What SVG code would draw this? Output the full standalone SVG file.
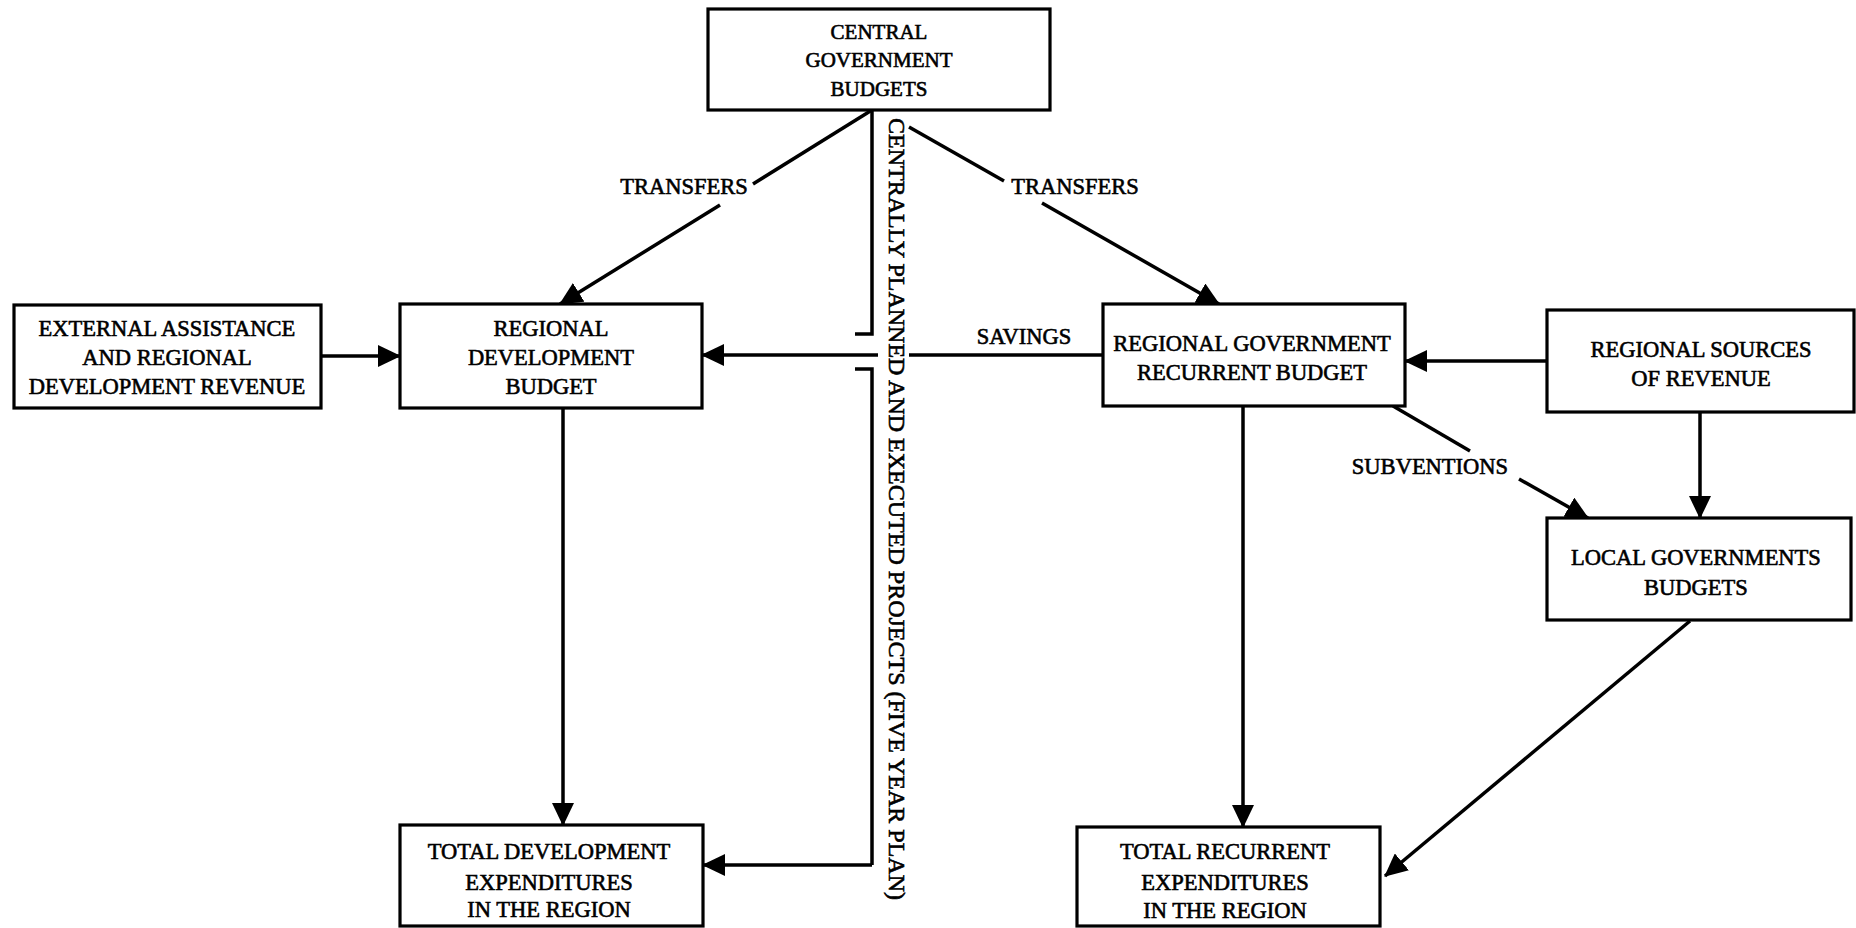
<svg xmlns="http://www.w3.org/2000/svg" width="1856" height="928" viewBox="0 0 1856 928">
<style>
.box{fill:#fff;stroke:#000;stroke-width:3.2}
.t{font-family:"Liberation Serif","Times New Roman",serif;font-size:22.5px;fill:#000;stroke:#000;stroke-width:0.6;text-anchor:middle;dominant-baseline:central}
.s{font-size:21px}
.c{fill:none;stroke:#000;stroke-width:3.5}
.a{fill:none;stroke:#000;stroke-width:3.5;marker-end:url(#ah)}
</style>
<defs>
<marker id="ah" markerUnits="userSpaceOnUse" markerWidth="24" markerHeight="22" refX="22" refY="11" orient="auto">
<path d="M0,0 L23,11 L0,22 Z" fill="#000"/>
</marker>
</defs>
<rect width="1856" height="928" fill="#fff"/>
<g id="connectors">
<line class="c" x1="872" y1="110" x2="753" y2="184"/>
<line class="a" x1="720" y1="205" x2="560" y2="304"/>
<line class="c" x1="909" y1="127" x2="1004" y2="181"/>
<line class="a" x1="1042" y1="203" x2="1219" y2="304"/>
<line class="a" x1="321" y1="356" x2="400" y2="356"/>
<line class="c" x1="1103" y1="355" x2="909" y2="355"/>
<line class="a" x1="878" y1="355" x2="702" y2="355"/>
<polyline class="c" points="872,110 872,334 855,334"/>
<polyline class="c" points="855,369 872,369 872,865"/>
<line class="a" x1="872" y1="865" x2="703" y2="865"/>
<line class="a" x1="563" y1="408" x2="563" y2="825"/>
<line class="a" x1="1243" y1="406" x2="1243" y2="827"/>
<line class="a" x1="1547" y1="361" x2="1405" y2="361"/>
<line class="a" x1="1700" y1="412" x2="1700" y2="518"/>
<line class="c" x1="1393" y1="406" x2="1470" y2="451"/>
<line class="a" x1="1519" y1="479" x2="1588" y2="518"/>
<line class="a" x1="1690" y1="621" x2="1385" y2="876"/>
<text class="t" x="684" y="186">TRANSFERS</text>
<text class="t" x="1075" y="186">TRANSFERS</text>
<text class="t" x="1024" y="336">SAVINGS</text>
<text class="t" x="1430" y="466">SUBVENTIONS</text>
<text class="t" transform="translate(896,509) rotate(90)" x="0" y="0" textLength="782" lengthAdjust="spacingAndGlyphs">CENTRALLY PLANNED AND EXECUTED PROJECTS (FIVE YEAR PLAN)</text>
</g>
<g id="central">
<rect class="box" x="708" y="9" width="342" height="101"/>
<text class="t s" x="879" y="32">CENTRAL</text>
<text class="t s" x="879" y="60">GOVERNMENT</text>
<text class="t s" x="879" y="89">BUDGETS</text>
</g>
<g id="external">
<rect class="box" x="14" y="305" width="307" height="103"/>
<text class="t" x="167" y="328">EXTERNAL ASSISTANCE</text>
<text class="t" x="167" y="357">AND REGIONAL</text>
<text class="t" x="167" y="386">DEVELOPMENT REVENUE</text>
</g>
<g id="regdev">
<rect class="box" x="400" y="304" width="302" height="104"/>
<text class="t" x="551" y="328">REGIONAL</text>
<text class="t" x="551" y="357">DEVELOPMENT</text>
<text class="t" x="551" y="386">BUDGET</text>
</g>
<g id="reggov">
<rect class="box" x="1103" y="304" width="302" height="102"/>
<text class="t" x="1252" y="343">REGIONAL GOVERNMENT</text>
<text class="t" x="1252" y="372">RECURRENT BUDGET</text>
</g>
<g id="regsrc">
<rect class="box" x="1547" y="310" width="307" height="102"/>
<text class="t" x="1701" y="349">REGIONAL SOURCES</text>
<text class="t" x="1701" y="378">OF REVENUE</text>
</g>
<g id="local">
<rect class="box" x="1547" y="518" width="304" height="102"/>
<text class="t" x="1696" y="557">LOCAL GOVERNMENTS</text>
<text class="t" x="1696" y="587">BUDGETS</text>
</g>
<g id="totdev">
<rect class="box" x="400" y="825" width="303" height="101"/>
<text class="t" x="549" y="851">TOTAL DEVELOPMENT</text>
<text class="t" x="549" y="882">EXPENDITURES</text>
<text class="t" x="549" y="909">IN THE REGION</text>
</g>
<g id="totrec">
<rect class="box" x="1077" y="827" width="303" height="99"/>
<text class="t" x="1225" y="851">TOTAL RECURRENT</text>
<text class="t" x="1225" y="882">EXPENDITURES</text>
<text class="t" x="1225" y="910">IN THE REGION</text>
</g>
</svg>
